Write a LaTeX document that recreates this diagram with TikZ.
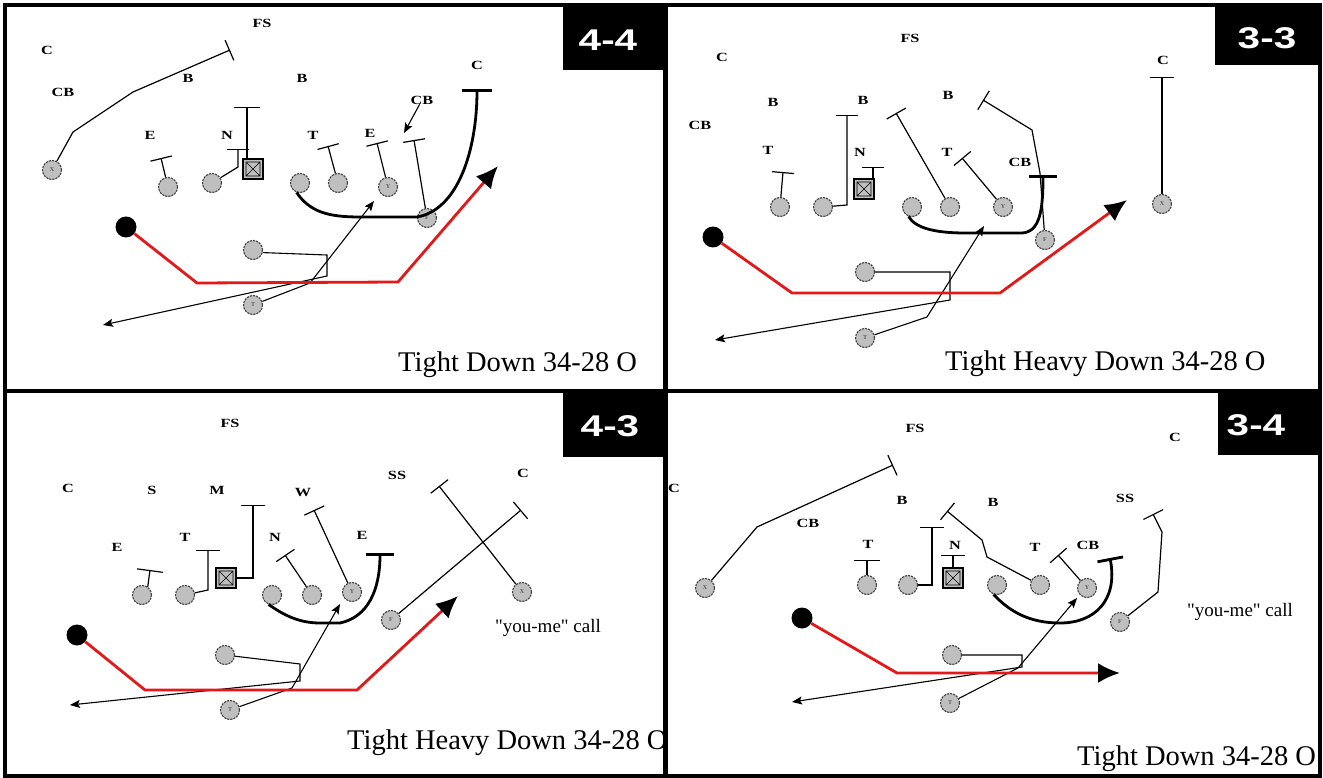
\documentclass[tikz,border=0pt]{standalone}
\usepackage{graphicx}
\usepackage{fontspec}
\setmainfont{Liberation Serif}
\newfontfamily\headfont{Liberation Sans}
\newfontfamily\callfont{Liberation Serif}[Ligatures=TeXOff]
\usetikzlibrary{arrows.meta}
\definecolor{runred}{RGB}{228,24,24}
\newcommand\dl[1]{\scalebox{1.3}[1]{\fontsize{12.5}{12.5}\selectfont\bfseries #1}}
\newcommand\hd[1]{\scalebox{1.35}[1]{\headfont\fontsize{30}{30}\selectfont\bfseries #1}}
\newcommand\ttl{\fontsize{28.5}{30}\selectfont}
\begin{document}
\begin{tikzpicture}[x=1pt,y=-1pt,
 pl/.style={circle,minimum size=19pt,inner sep=0pt,fill=gray!50,draw=black!75,line width=1.1pt,dash pattern=on 2.2pt off 1pt},
 sk/.style={pl,font=\fontsize{6}{6}\selectfont\bfseries\color{black!65}},
 qbk/.style={circle,minimum size=21pt,inner sep=0pt,fill=black},
 ctr/.style={rectangle,minimum size=20pt,inner sep=0pt,fill=gray!50,draw=black,line width=1.3pt,
   path picture={\draw[line width=0.6pt]
     ([shift={(3pt,3pt)}]path picture bounding box.south west) rectangle ([shift={(-3pt,-3pt)}]path picture bounding box.north east)
     ([shift={(3pt,3pt)}]path picture bounding box.south west) -- ([shift={(-3pt,-3pt)}]path picture bounding box.north east)
     ([shift={(3pt,-3pt)}]path picture bounding box.north west) -- ([shift={(-3pt,3pt)}]path picture bounding box.south east);}},
 dlab/.style={inner sep=0pt},
 blk/.style={line width=1.2pt,-{Bar[width=#1]}}, blk/.default=22pt,
 pull/.style={line width=2.8pt,-{Bar[width=#1]}}, pull/.default=28pt,
 rte/.style={line width=1.1pt,-{Stealth[length=10pt,width=8pt,inset=2pt]}},
 run/.style={draw=runred,line width=2.8pt,-{Latex[length=22pt,width=20pt,color=black]}},
 hdlab/.style={text=white,inner sep=0pt},
 title/.style={anchor=base west,inner sep=0pt,font=\ttl},
 call/.style={inner sep=0pt,font=\callfont\fontsize{19}{19}\selectfont},
]
\useasboundingbox (0,0) rectangle (1323,778);
\fill[white] (0,0) rectangle (1323,778);

% ================= Panel A (4-4) =================
\node[pl] (a-lt) at (168,187) {};
\node[pl] (a-lg) at (212,183) {};
\node[ctr] (a-c) at (253,169) {};
\node[pl] (a-rg) at (300,183) {};
\node[pl] (a-rt) at (338,183) {};
\node[sk] (a-y) at (388,187) {Y};
\node[sk] (a-f) at (427,218) {F};
\node[sk] (a-x) at (52,170) {X};
\node[qbk] (a-qb) at (126,227) {};
\node[pl] (a-hb) at (253,250) {};
\node[sk] (a-t) at (253,305) {T};
\node[dlab] (a-fs) at (262,23) {\dl{FS}};
\node[dlab] (a-c1) at (47,50) {\dl{C}};
\node[dlab] (a-cb1) at (63,92) {\dl{CB}};
\node[dlab] (a-b1) at (188,78) {\dl{B}};
\node[dlab] (a-b2) at (302,78) {\dl{B}};
\node[dlab] (a-e1) at (150,135) {\dl{E}};
\node[dlab] (a-n) at (227,135) {\dl{N}};
\node[dlab] (a-t1) at (313,135) {\dl{T}};
\node[dlab] (a-e2) at (370,133) {\dl{E}};
\node[dlab] (a-cb2) at (422,100) {\dl{CB}};
\node[dlab] (a-c2) at (477,65) {\dl{C}};
\draw[blk] (a-x) -- (73,132) -- (133,92) -- (230,50);
\draw[blk] (a-lt) -- (161,158);
\draw[blk] (a-lg) -- (238,167) -- (238,149);
\draw[blk=26pt] ([xshift=-6pt]a-c.north) -- (247,107);
\draw[pull=30pt] (a-rg.-110) .. controls (310,212) and (328,217) .. (360,217) -- (417,217) .. controls (458,210) and (477,150) .. (477,89);
\draw[blk] (a-rt) -- (328,146);
\draw[blk] (a-y) -- (377,143);
\draw[blk] (a-f) -- (414,140);
\draw[rte] (a-cb2) -- (404,133);
\draw[rte] (a-t) -- (310,283) -- (374,201);
\draw[rte] (a-hb.-15) -- (327,255) -- (327,276) -- (103,325);
\draw[run] (a-qb) -- (197,283) -- (398,282) -- (498,166);
\node[title] (a-title) at (398,371) {Tight Down 34-28 O};

% ================= Panel B (3-3) =================
\node[pl] (b-lt) at (780,207) {};
\node[pl] (b-lg) at (823,207) {};
\node[ctr] (b-c) at (864,189) {};
\node[pl] (b-rg) at (912,207) {};
\node[pl] (b-rt) at (950,207) {};
\node[sk] (b-y) at (1003,207) {Y};
\node[sk] (b-f) at (1045,240) {F};
\node[sk] (b-x) at (1162,204) {X};
\node[qbk] (b-qb) at (713,237) {};
\node[pl] (b-hb) at (865,272) {};
\node[sk] (b-t) at (865,338) {T};
\node[dlab] (b-fs) at (910,38) {\dl{FS}};
\node[dlab] (b-c1) at (722,57) {\dl{C}};
\node[dlab] (b-cb1) at (700,125) {\dl{CB}};
\node[dlab] (b-b1) at (773,102) {\dl{B}};
\node[dlab] (b-b2) at (863,100) {\dl{B}};
\node[dlab] (b-b3) at (948,95) {\dl{B}};
\node[dlab] (b-t1) at (768,150) {\dl{T}};
\node[dlab] (b-n) at (860,152) {\dl{N}};
\node[dlab] (b-t2) at (947,152) {\dl{T}};
\node[dlab] (b-cb2) at (1020,162) {\dl{CB}};
\node[dlab] (b-c2) at (1163,60) {\dl{C}};
\draw[blk] (b-lt) -- (783,172);
\draw[blk] (b-lg) -- (847,205) -- (847,115);
\draw[blk] ([xshift=9pt]b-c.north) -- (873,167);
\draw[pull] (b-rg.-110) .. controls (915,228) and (935,233) .. (965,233) -- (1022,233) .. controls (1040,232) and (1043,210) .. (1043,175);
\draw[blk] (b-rt) -- (896,113);
\draw[blk] (b-y) -- (962,158);
\draw[blk] (b-f) -- (1040,173) -- (1032,130) -- (983,100);
\draw[blk=24pt] (b-x) -- (1162,77);
\draw[rte] (b-hb) -- (950,272) -- (950,300) -- (715,340);
\draw[rte] (b-t) -- (927,317) -- (984,226);
\draw[run] (b-qb) -- (792,293) -- (1000,293) -- (1127,200);
\node[title] (b-title) at (945,370) {Tight Heavy Down 34-28 O};

% ================= Panel C (4-3) =================
\node[pl] (c-lt) at (142,595) {};
\node[pl] (c-lg) at (185,595) {};
\node[ctr] (c-c) at (226,578) {};
\node[pl] (c-rg) at (272,595) {};
\node[pl] (c-rt) at (312,595) {};
\node[sk] (c-y) at (352,592) {Y};
\node[sk] (c-f) at (391,620) {F};
\node[sk] (c-x) at (522,592) {X};
\node[qbk] (c-qb) at (77,635) {};
\node[pl] (c-hb) at (225,655) {};
\node[sk] (c-t) at (230,710) {T};
\node[dlab] (c-fs) at (230,423) {\dl{FS}};
\node[dlab] (c-c1) at (68,488) {\dl{C}};
\node[dlab] (c-s) at (152,490) {\dl{S}};
\node[dlab] (c-m) at (217,490) {\dl{M}};
\node[dlab] (c-w) at (303,493) {\dl{W}};
\node[dlab] (c-e1) at (117,547) {\dl{E}};
\node[dlab] (c-t1) at (185,537) {\dl{T}};
\node[dlab] (c-n) at (275,537) {\dl{N}};
\node[dlab] (c-e2) at (362,535) {\dl{E}};
\node[dlab] (c-ss) at (397,475) {\dl{SS}};
\node[dlab] (c-c2) at (523,473) {\dl{C}};
\draw[blk=26pt] (c-lt.55) -- (150,570);
\draw[blk=24pt] (c-lg) -- (208,590) -- (208,550);
\draw[blk=24pt] (c-c.east) -- (253,578) -- (253,505);
\draw[pull] (c-rg.-110) .. controls (285,616) and (300,623) .. (320,623) -- (340,623) .. controls (368,617) and (380,590) .. (380,553);
\draw[blk] (c-rt) -- (285,555);
\draw[blk] (c-y) -- (314,510);
\draw[blk] (c-f) -- (521,510);
\draw[blk] (c-x) -- (439,486);
\draw[rte] (c-hb) -- (300,664) -- (300,681) -- (70,705);
\draw[rte] (c-t) -- (292,688) -- (340,604);
\draw[run] (c-qb) -- (145,690) -- (357,690) -- (458,596);
\node[call] (c-call) at (548,628) {"you-me" call};
\begin{scope}
\clip (5,391) rectangle (663,776);
\node[title] (c-title) at (347,749) {Tight Heavy Down 34-28 O};
\end{scope}

% ================= Panel D (3-4) =================
\node[sk] (d-x) at (705,588) {X};
\node[qbk] (d-qb) at (802,618) {};
\node[pl] (d-lt) at (867,585) {};
\node[pl] (d-lg) at (908,585) {};
\node[ctr] (d-c) at (953,578) {};
\node[pl] (d-rg) at (997,585) {};
\node[pl] (d-rt) at (1040,585) {};
\node[sk] (d-y) at (1087,588) {Y};
\node[sk] (d-f) at (1120,622) {F};
\node[pl] (d-hb) at (952,655) {};
\node[sk] (d-t) at (950,703) {T};
\node[dlab] (d-fs) at (915,428) {\dl{FS}};
\node[dlab] (d-c1) at (674,488) {\dl{C}};
\node[dlab] (d-cb1) at (808,523) {\dl{CB}};
\node[dlab] (d-b1) at (902,500) {\dl{B}};
\node[dlab] (d-b2) at (993,502) {\dl{B}};
\node[dlab] (d-n) at (955,545) {\dl{N}};
\node[dlab] (d-t1) at (868,544) {\dl{T}};
\node[dlab] (d-t2) at (1035,547) {\dl{T}};
\node[dlab] (d-cb2) at (1088,545) {\dl{CB}};
\node[dlab] (d-ss) at (1125,498) {\dl{SS}};
\node[dlab] (d-c2) at (1175,437) {\dl{C}};
\draw[blk] (d-x) -- (757,527) -- (893,465);
\draw[blk=26pt] (d-lt) -- (867,560);
\draw[blk=24pt] (d-lg) -- (932,585) -- (932,527);
\draw[blk=24pt] (d-c.north) -- (953,555);
\draw[blk] (d-rt) -- (987,557) -- (982,540) -- (947,511);
\draw[pull=26pt] (d-rg.-110) .. controls (1010,612) and (1030,623) .. (1060,623) .. controls (1095,623) and (1118,600) .. (1110,558);
\draw[blk] (d-y) -- (1058,555);
\draw[blk] (d-f) -- (1158,592) -- (1162,532) -- (1153,514);
\draw[rte] (d-hb) -- (1022,655) -- (1022,667) -- (792,702);
\draw[rte] (d-t) -- (1018,668) -- (1077,598);
\draw[run] (d-qb) -- (897,673) -- (1120,673);
\node[call] (d-call) at (1240,612) {"you-me" call};
\node[title] (d-title) at (1077,765) {Tight Down 34-28 O};

% ================= Frame and headers =================
\draw[line width=4pt] (5,5) rectangle (1320,776);
\draw[line width=5pt] (665,5) -- (665,776);
\draw[line width=4pt] (5,391) -- (1320,391);
\fill (563,5) rectangle (663,70);
\fill (1215,5) rectangle (1320,65);
\fill (563,391) rectangle (663,457);
\fill (1218,391) rectangle (1320,455);
\node[hdlab] (a-head) at (608,40) {\hd{4-4}};
\node[hdlab] (b-head) at (1267,38) {\hd{3-3}};
\node[hdlab] (c-head) at (610,426) {\hd{4-3}};
\node[hdlab] (d-head) at (1256,425) {\hd{3-4}};
\end{tikzpicture}
\end{document}
